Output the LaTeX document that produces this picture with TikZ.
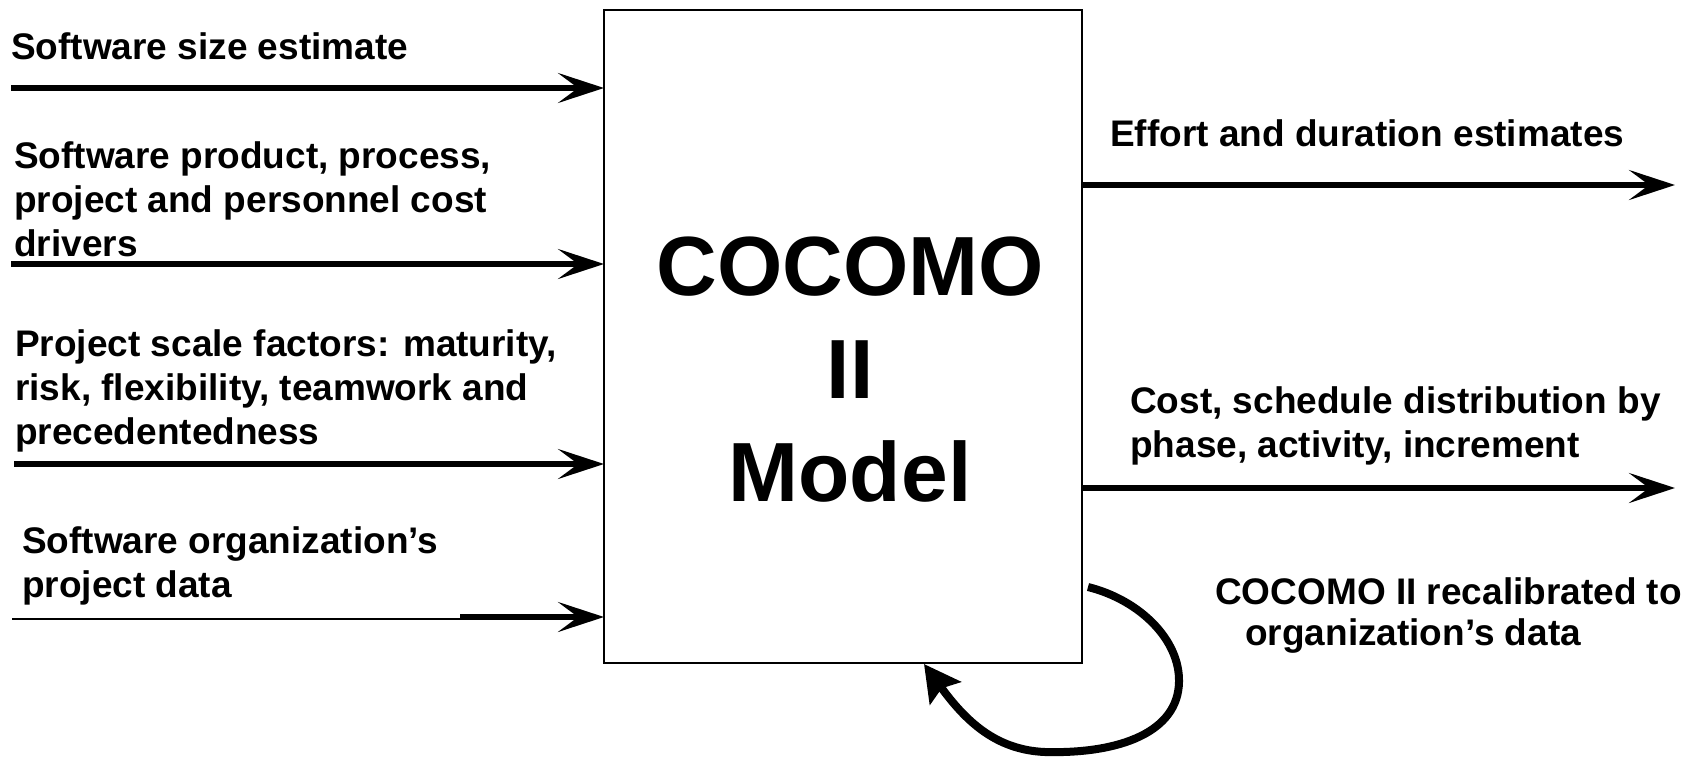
\documentclass[tikz,border=0pt]{standalone}
\usepackage{fontspec}
\setmainfont{Liberation Sans}
\usetikzlibrary{arrows.meta}
\begin{document}
\begin{tikzpicture}[x=1pt,y=-1pt,
  lbl/.style={anchor=base west,inner sep=0pt,font=\fontsize{37}{44}\selectfont\bfseries},
  bigtxt/.style={inner sep=0pt,font=\fontsize{84}{103}\selectfont\bfseries,align=center},
  modelbox/.style={draw,line width=2.6pt,minimum width=478pt,minimum height=653pt,inner sep=0pt,outer sep=0pt},
  bigarrow/.style={line width=5.5pt,-{Stealth[length=46pt,width=30pt,inset=20pt]}},
  thinline/.style={line width=1.6pt},
  looparrow/.style={line width=8pt,-{Stealth[length=36pt,width=38pt,inset=6pt]}}
]
\useasboundingbox (0,0) rectangle (1686,758);
\fill[white] (0,0) rectangle (1686,758);

\node[modelbox] (box) at (843,336.5) {};
\node[bigtxt,anchor=base] (title) at (850,295) {\begin{tabular}[t]{@{}c@{}}COCOMO\\II\\Model\end{tabular}};

% left labels
\node[lbl] (t1) at (11,59) {Software size estimate};
\node[lbl] (t2) at (14,168) {\begin{tabular}[t]{@{}l@{}}Software product, process,\\project and personnel cost\\drivers\end{tabular}};
\node[lbl] (t3) at (15,356) {\begin{tabular}[t]{@{}l@{}}Project scale factors: maturity,\\risk, flexibility, teamwork and\\precedentedness\end{tabular}};
\node[lbl] (t4) at (22,553) {\begin{tabular}[t]{@{}l@{}}Software organization’s\\project data\end{tabular}};

% right labels
\node[lbl] (r1) at (1110,146) {Effort and duration estimates};
\node[lbl] (r2) at (1130,413) {\begin{tabular}[t]{@{}l@{}}Cost, schedule distribution by\\phase, activity, increment\end{tabular}};
\node[lbl] (r3) at (1215,604) {\begin{tabular}[t]{@{}l@{}}COCOMO II recalibrated to\\[-3pt]\hspace{30pt}organization’s data\end{tabular}};

% coordinates for free ends
\coordinate (a1) at (11,88);
\coordinate (a2) at (11,264);
\coordinate (a3) at (14,464);
\coordinate (a4s) at (12,619);
\coordinate (a4m) at (460,619);
\coordinate (a4k) at (460,617);
\coordinate (b1) at (1675,185);
\coordinate (b2) at (1675,488);
\coordinate (ls) at (1088,587);
\coordinate (le) at (924,664);

% input arrows
\draw[bigarrow] (a1) -- (box.west |- a1);
\draw[bigarrow] (a2) -- (box.west |- a2);
\draw[bigarrow] (a3) -- (box.west |- a3);
\draw[thinline] (a4s) -- (a4m);
\draw[bigarrow] (a4k) -- (box.west |- a4k);

% output arrows
\draw[bigarrow] (box.east |- b1) -- (b1);
\draw[bigarrow] (box.east |- b2) -- (b2);

% recalibration loop
\draw[looparrow] (ls) .. controls (1140,600) and (1180,640) .. (1179,682)
  .. controls (1178,732) and (1120,754) .. (1045,752)
  .. controls (995,750) and (965,720) .. (le);
\end{tikzpicture}
\end{document}
